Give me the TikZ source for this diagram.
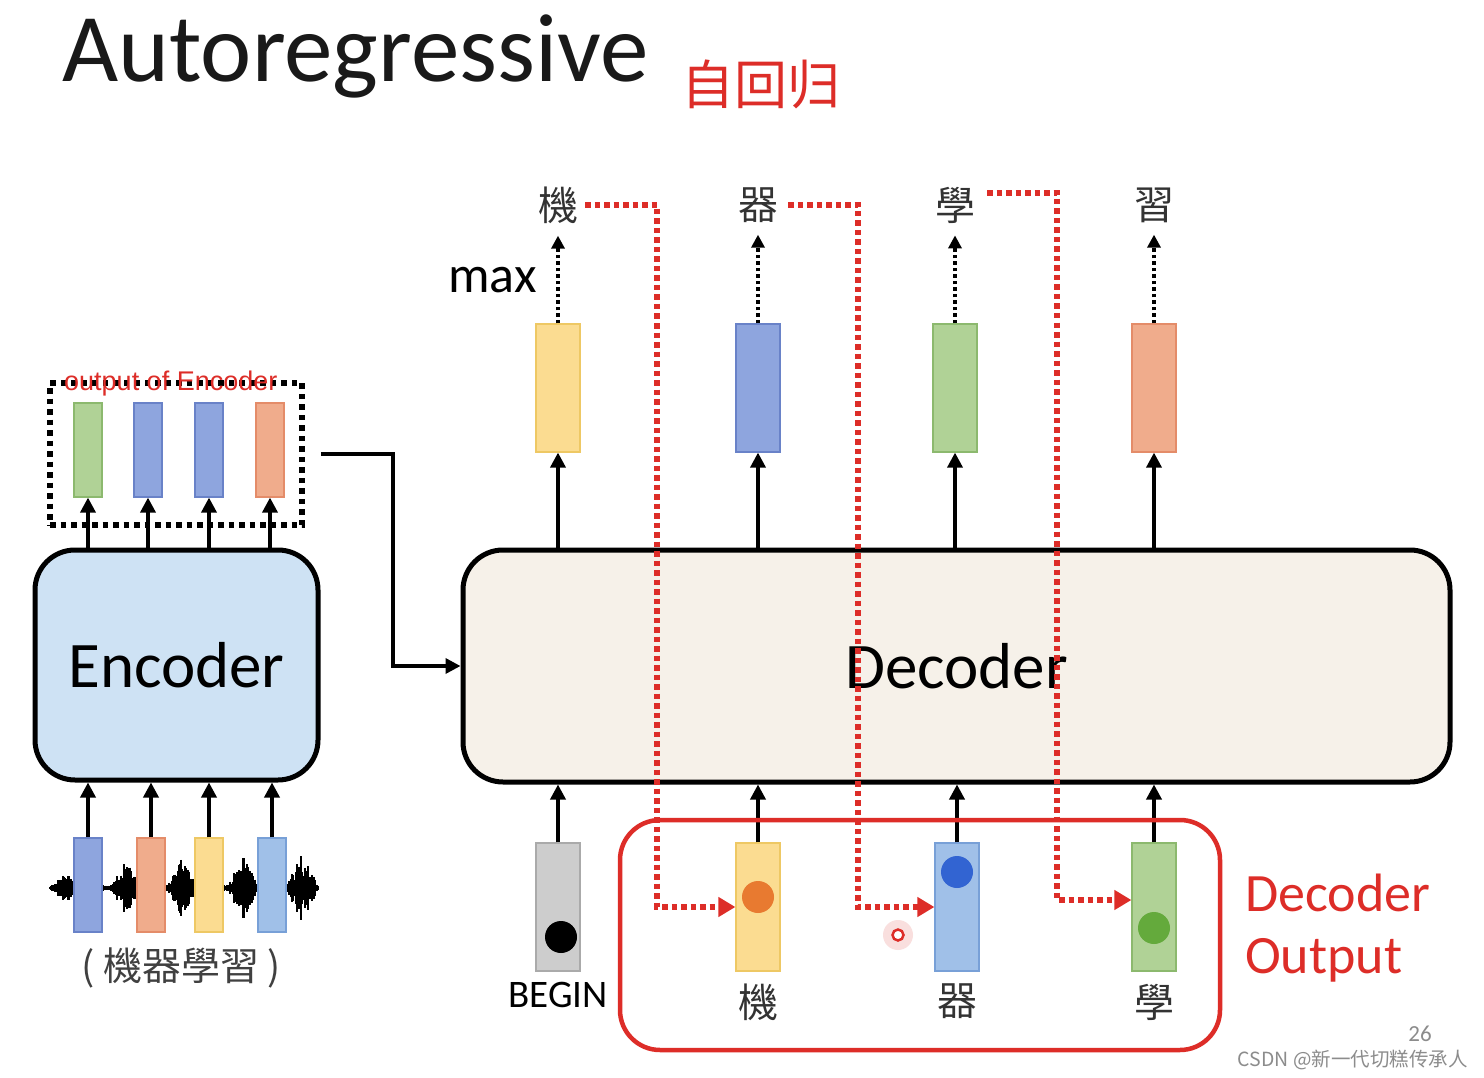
\documentclass[tikz,border=0pt]{standalone}
\usepackage{fontspec}
\setmainfont{Carlito}
\newfontfamily\tcfont{Noto Sans CJK TC}
\newfontfamily\scfont{Noto Sans CJK SC}
\newfontfamily\arialfont{Liberation Sans}
\usetikzlibrary{arrows.meta,positioning}

\definecolor{myred}{RGB}{221,45,40}
\definecolor{barG}{RGB}{176,210,150}
\definecolor{edgeG}{RGB}{140,185,110}
\definecolor{barB}{RGB}{142,165,222}
\definecolor{edgeB}{RGB}{105,130,200}
\definecolor{barO}{RGB}{240,172,140}
\definecolor{edgeO}{RGB}{228,140,105}
\definecolor{barY}{RGB}{251,220,145}
\definecolor{edgeY}{RGB}{238,200,100}
\definecolor{barL}{RGB}{160,192,232}
\definecolor{edgeL}{RGB}{120,160,215}
\definecolor{barK}{RGB}{205,205,205}
\definecolor{edgeK}{RGB}{170,170,170}
\definecolor{encfill}{RGB}{206,226,244}
\definecolor{decfill}{RGB}{246,241,233}

\begin{document}
\begin{tikzpicture}[x=1pt,y=-1pt,
    bar/.style={line width=1.2pt, minimum width=44pt, minimum height=128pt, inner sep=0pt},
    ebar/.style={bar, minimum width=28pt, minimum height=94pt},
    block/.style={draw=black, line width=5pt, rounded corners=40pt, inner sep=0pt, font=\fontsize{65}{65}\selectfont},
    arr/.style={line width=3.5pt, -{Triangle[length=15pt,width=15pt]}},
    darr/.style={line width=4pt, dash pattern=on 3.5pt off 3pt, -{Triangle[length=13pt,width=13pt]}},
    reddot/.style={draw=myred, line width=5.5pt, dash pattern=on 5.5pt off 4pt, -{Triangle[length=17pt,width=19pt]}},
    ch/.style={font=\tcfont\fontsize{40}{40}\selectfont, text=black!80, inner sep=0pt},
  ]
    \fill[white] (0,0) rectangle (1484,1078);
    \useasboundingbox (0,0) rectangle (1484,1078);

    \node[anchor=base west, inner sep=0pt, font=\fontsize{97}{97}\selectfont, text=black!90] (title) at (62,82) {Autoregressive};
    \node[font=\scfont\fontsize{53}{53}\selectfont, text=myred, inner sep=0pt] (zh) at (761,84) {自回归};

    % encoder side
    \pgfmathsetseed{3}
    \foreach \i in {50,...,318}{
      \pgfmathsetmacro\amp{(3+12*max(0,1-abs(\i-66)/14)+26*max(0,1-abs(\i-126)/14)+30*max(0,1-abs(\i-182)/14)+30*max(0,1-abs(\i-243)/15)+32*max(0,1-abs(\i-302)/16))*(0.35+0.65*rnd)}
      \draw[line width=1.4pt] (\i,888-\amp) -- (\i,888+\amp);
    }
    \node[block, fill=encfill, minimum width=283pt, minimum height=230pt] (enc) at (176.5,665) {Encoder};
    \node[draw, line width=5.5pt, dash pattern=on 5.5pt off 5pt, minimum width=252pt, minimum height=142pt] (eobox) at (176,454) {};
    \node[font=\arialfont\fontsize{27}{27}\selectfont, text=myred, anchor=base west, inner sep=0pt] (eolab) at (64,390) {output of Encoder};
    \foreach \x/\c [count=\i] in {88/G,148/B,209/B,270/O}{
      \node[ebar, fill=bar\c, draw=edge\c] (eo\i) at (\x,450) {};
      \draw[arr] (enc.north -| eo\i) -- (eo\i.south);
    }
    \foreach \x/\c [count=\i] in {88/B,151/O,209/Y,272/L}{
      \node[ebar, fill=bar\c, draw=edge\c] (ei\i) at (\x,885) {};
      \draw[arr] (ei\i.north) -- (enc.south -| ei\i);
    }
    \node[font=\tcfont\fontsize{39}{39}\selectfont, text=black!75] (src) at (181,968) {( 機器學習 )};

    % decoder side
    \node[block, fill=decfill, minimum width=987pt, minimum height=232pt] (dec) at (956.5,666) {Decoder};
    \draw[arr] ([xshift=16pt]eobox.east) -- ++(72,0) |- (dec.west);

    \foreach \x/\c/\t [count=\i] in {558/Y/機,758/B/器,955/G/學,1154/O/習}{
      \node[bar, fill=bar\c, draw=edge\c] (o\i) at (\x,388) {};
      \draw[arr] (dec.north -| o\i) -- (o\i.south);
      \node[ch] (t\i) at (\x,205) {\t};
      \draw[darr, shorten >=12pt] (o\i.north) -- (t\i.south);
    }
    \node[font=\fontsize{52}{52}\selectfont, anchor=base east, inner sep=0pt] (mx) at (537,293) {max};

    \foreach \x/\c [count=\i] in {558/K,758/Y,957/L,1154/G}{
      \node[bar, fill=bar\c, draw=edge\c] (x\i) at (\x,907) {};
      \draw[arr] (x\i.north) -- (dec.south -| x\i);
    }
    \node[circle, fill=black, minimum size=32pt, inner sep=0pt] (d1) at ([xshift=3pt,yshift=-30pt]x1) {};
    \node[circle, fill={rgb,255:red,232;green,122;blue,48}, minimum size=32pt, inner sep=0pt] (d2) at ([yshift=10pt]x2) {};
    \node[circle, fill={rgb,255:red,50;green,100;blue,210}, minimum size=32pt, inner sep=0pt] (d3) at ([yshift=35pt]x3) {};
    \node[circle, fill={rgb,255:red,100;green,170;blue,60}, minimum size=32pt, inner sep=0pt] (d4) at ([yshift=-21pt]x4) {};

    \node[below=10pt of x1, inner sep=0pt, font=\fontsize{39}{39}\selectfont] (b1) {BEGIN};
    \node[below=12pt of x2, ch] (b2) {機};
    \node[below=12pt of x3, ch] (b3) {器};
    \node[below=12pt of x4, ch] (b4) {學};

    \node[draw=myred, line width=4.5pt, rounded corners=40pt, minimum width=600pt, minimum height=230pt] (outbox) at (920,935) {};
    \node[font=\fontsize{54}{62}\selectfont, text=myred, align=left, anchor=west, inner sep=0pt] (outlab) at (1245,928) {Decoder\\Output};

    \draw[reddot] ([xshift=7pt]t1.east) -- ++(72,0) |- (x2.west);
    \draw[reddot] ([xshift=10pt]t2.east) -- ++(70,0) |- (x3.west);
    \draw[reddot] ([xshift=12pt,yshift=12pt]t3.east) -- ++(70,0) |- ([yshift=7pt]x4.west);

    \fill[myred, opacity=0.15] (898,935) circle (15);
    \node[circle, draw=myred, line width=2.5pt, minimum size=11pt, inner sep=0pt, fill=white] (ptr) at (898,935) {};

    \node[text=black!45, font=\fontsize{23}{23}\selectfont, inner sep=0pt] (pg) at (1420,1034) {26};
    \node[text=black!45, font=\scfont\fontsize{19.5}{19.5}\selectfont, anchor=east, inner sep=0pt] (wm) at (1468,1060) {CSDN @新一代切糕传承人};
\end{tikzpicture}
\end{document}
